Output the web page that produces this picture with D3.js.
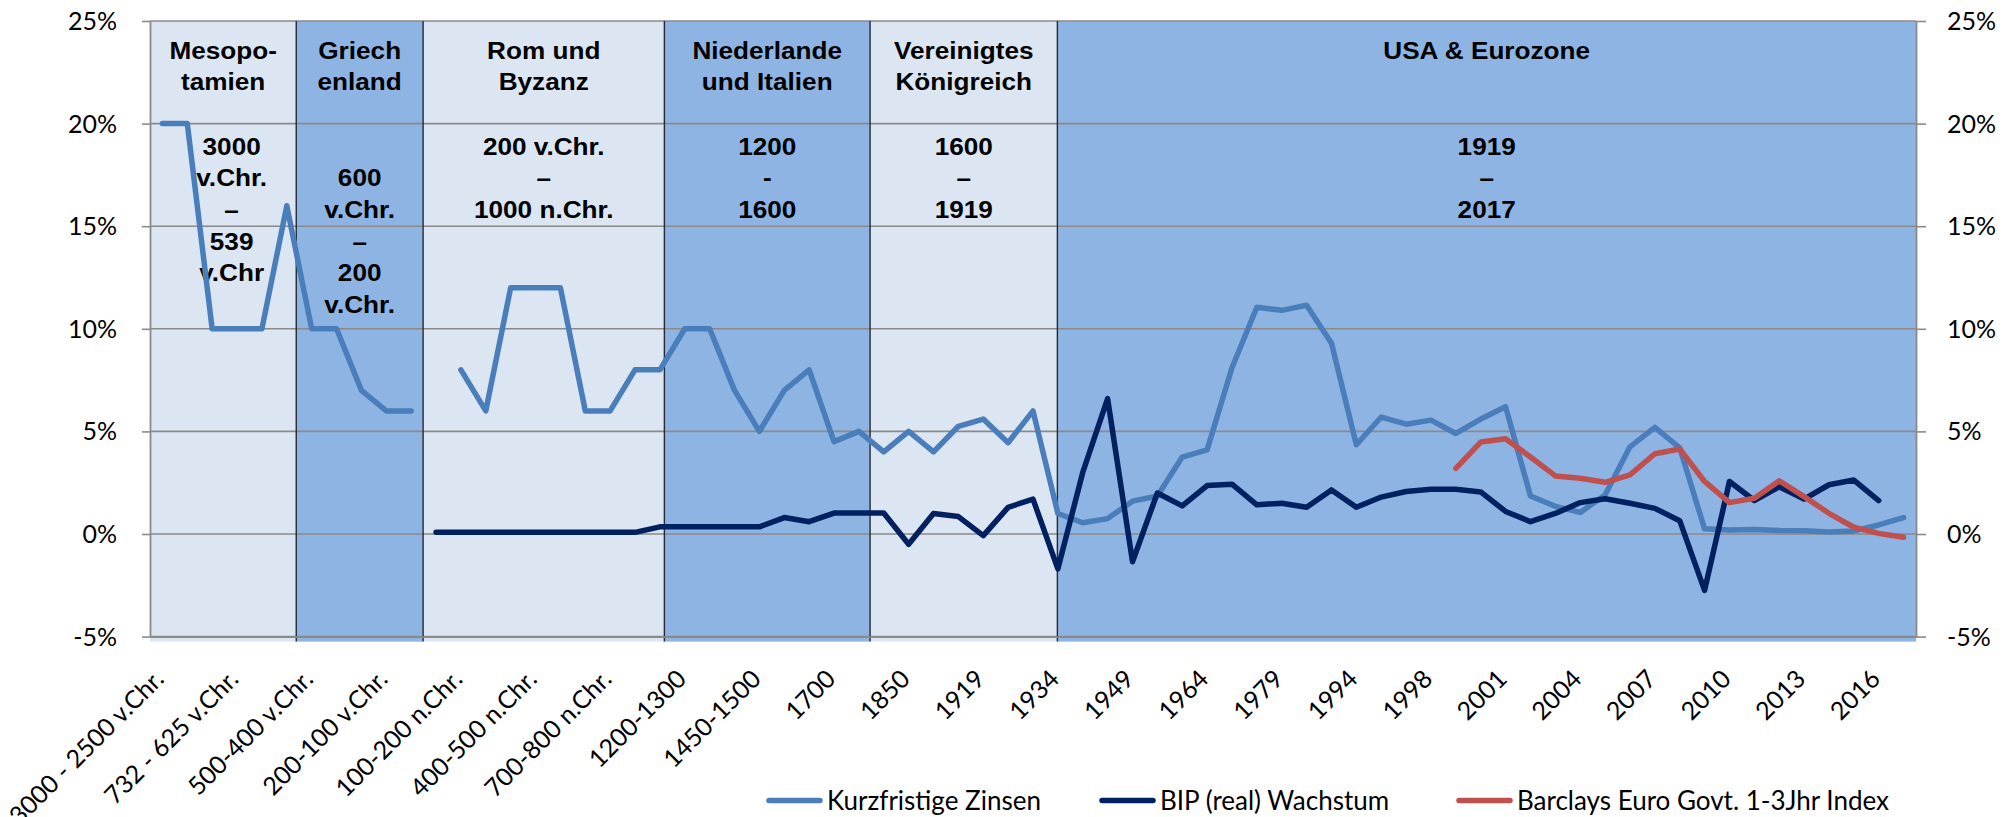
<!DOCTYPE html>
<html>
<head>
<meta charset="utf-8">
<script src="https://cdn.jsdelivr.net/npm/d3@7"></script>
<style>
  html, body { margin: 0; padding: 0; background: #ffffff; }
  svg { display: block; }
</style>
</head>
<body>
<script>
// ---------------- DATA ----------------
const categories = [
  "3000 - 2500 v.Chr.", "2500 - 2000 v.Chr.", "2000 - 1500 v.Chr.",
  "732 - 625 v.Chr.", "625 - 580 v.Chr.", "580 - 539 v.Chr.",
  "500-400 v.Chr.", "400-300 v.Chr.", "300-200 v.Chr.",
  "200-100 v.Chr.", "100-0 v.Chr.", "0-100 n.Chr.",
  "100-200 n.Chr.", "200-300 n.Chr.", "300-400 n.Chr.",
  "400-500 n.Chr.", "500-600 n.Chr.", "600-700 n.Chr.",
  "700-800 n.Chr.", "800-900 n.Chr.", "900-1000 n.Chr.",
  "1200-1300", "1300-1400", "1400-1450",
  "1450-1500", "1500-1600", "1600-1650",
  "1700", "1750", "1800",
  "1850", "1870", "1900",
  "1919", "1924", "1929",
  "1934", "1939", "1944",
  "1949", "1954", "1959",
  "1964", "1969", "1974",
  "1979", "1984", "1989",
  "1994", "1996", "1997",
  "1998", "1999", "2000",
  "2001", "2002", "2003",
  "2004", "2005", "2006",
  "2007", "2008", "2009",
  "2010", "2011", "2012",
  "2013", "2014", "2015",
  "2016", "2017"
];

// Kurzfristige Zinsen (%)
const zinsen = [
  20, 20, 10, 10, 10, 16, 10, 10, 7, 6, 6, null,
  8, 6, 12, 12, 12, 6, 6, 8, 8,
  10, 10, 7, 5, 7, 8,
  4.5, 5, 4, 5, 4, 5.25, 5.6, 4.45, 6.0,
  1.0, 0.55, 0.75, 1.6, 1.85, 3.75, 4.1, 8.1, 11.05, 10.9, 11.15, 9.3,
  4.35, 5.7, 5.35, 5.55, 4.9, 5.6, 6.2, 1.85, 1.35, 1.05, 1.9, 4.25,
  5.2, 4.2, 0.25, 0.2, 0.22, 0.17, 0.16, 0.1, 0.15, 0.44, 0.8
];

// BIP (real) Wachstum (%)
const bip = [
  null, null, null, null, null, null, null, null, null, null, null,
  0.08, 0.08, 0.08, 0.08, 0.08, 0.08, 0.08, 0.08, 0.08, 0.35,
  0.35, 0.35, 0.35, 0.35, 0.8, 0.6,
  1.02, 1.02, 1.02, -0.5, 1.0, 0.85, -0.08, 1.3, 1.7,
  -1.7, 3.0, 6.6, -1.35, 2.0, 1.37, 2.36, 2.43, 1.42, 1.5, 1.3, 2.15,
  1.3, 1.8, 2.07, 2.18, 2.18, 2.05, 1.1, 0.6, 1.0, 1.53, 1.72, 1.5,
  1.25, 0.65, -2.75, 2.56, 1.63, 2.3, 1.7, 2.4, 2.63, 1.63, null
];

// Barclays Euro Govt. 1-3Jhr Index (%)
const barclays = [
  null, null, null, null, null, null, null, null, null, null, null,
  null, null, null, null, null, null, null, null, null, null,
  null, null, null, null, null, null,
  null, null, null, null, null, null, null, null, null,
  null, null, null, null, null, null, null, null, null, null, null, null,
  null, null, null, null, 3.2, 4.48, 4.64, 3.75, 2.83, 2.72, 2.52, 2.88,
  3.91, 4.14, 2.56, 1.53, 1.74, 2.59, 1.82, 1.01, 0.33, 0.03, -0.16
];

const yTicks = [-5, 0, 5, 10, 15, 20, 25];

// Eras (background bands), boundaries in category units
const eraHeaders = [
  ["Mesopo-", "tamien"],
  ["Griech", "enland"],
  ["Rom und", "Byzanz"],
  ["Niederlande", "und Italien"],
  ["Vereinigtes", "Königreich"],
  ["USA & Eurozone"]
];
const eraDates = [
  ["3000", "v.Chr.", "–", "539", "v.Chr"],
  ["", "600", "v.Chr.", "–", "200", "v.Chr."],
  ["200 v.Chr.", "–", "1000 n.Chr."],
  ["1200", "-", "1600"],
  ["1600", "–", "1919"],
  ["1919", "–", "2017"]
];
const eraBounds = [0, 5.88, 10.98, 20.68, 28.95, 36.48, 71];
const eraShade = ["light", "dark", "light", "dark", "light", "dark"];

const seriesNames = ["Kurzfristige Zinsen", "BIP (real) Wachstum", "Barclays Euro Govt. 1-3Jhr Index"];

// ---------------- LAYOUT / STYLE ----------------
const W = 2015, H = 817;
const M = { left: 150, right: 1916, top: 21, bottom: 636.6 };
const colors = {
  light: "#DCE6F2", dark: "#8EB4E3", grid: "#8a8a8a", sep: "#222a33",
  zinsen: "#4A7EBB", bip: "#002060", barclays: "#C0504D"
};
const axisFont = "Lato, 'Open Sans', sans-serif";
const headFont = "'Liberation Sans', Arial, sans-serif";

const svg = d3.select("body").append("svg").attr("width", W).attr("height", H);

const x = d3.scaleBand().domain(categories).range([M.left, M.right]).paddingInner(0).paddingOuter(0);
const xu = d3.scaleLinear().domain([0, categories.length]).range([M.left, M.right]);
const y = d3.scaleLinear().domain([-5, 25]).range([M.bottom, M.top]);

// Bands
const eras = eraHeaders.map((h, i) => ({ h, d: eraDates[i], a: eraBounds[i], b: eraBounds[i + 1], s: eraShade[i] }));
svg.append("g").selectAll("rect").data(eras).join("rect")
  .attr("x", d => xu(d.a)).attr("width", d => xu(d.b) - xu(d.a))
  .attr("y", M.top).attr("height", M.bottom - M.top + 5)
  .attr("fill", d => colors[d.s]);

// Gridlines
svg.append("g").selectAll("line").data(yTicks).join("line")
  .attr("x1", M.left).attr("x2", M.right)
  .attr("y1", d => y(d)).attr("y2", d => y(d))
  .attr("stroke", colors.grid).attr("stroke-width", 1.6);

// Era separators
svg.append("g").selectAll("line").data(eraBounds.slice(1, -1)).join("line")
  .attr("x1", d => xu(d)).attr("x2", d => xu(d))
  .attr("y1", M.top).attr("y2", M.bottom + 5)
  .attr("stroke", colors.sep).attr("stroke-width", 1.4);

// Axes
const fmt = d => d + "%";
const gl = svg.append("g").attr("transform", `translate(${M.left},0)`)
  .call(d3.axisLeft(y).tickValues(yTicks).tickFormat(fmt).tickSize(8).tickSizeOuter(0).tickPadding(25));
const gr = svg.append("g").attr("transform", `translate(${M.right},0)`)
  .call(d3.axisRight(y).tickValues(yTicks).tickFormat(fmt).tickSize(10).tickSizeOuter(0).tickPadding(21));
[gl, gr].forEach(g => {
  g.select(".domain").attr("stroke", colors.grid).attr("stroke-width", 1.8);
  g.selectAll(".tick line").attr("stroke", colors.grid).attr("stroke-width", 1.6);
  g.selectAll(".tick text").attr("font-family", axisFont).attr("font-size", 25).attr("fill", "#000").attr("dy", "0.34em");
});

const gx = svg.append("g").attr("transform", `translate(0,${M.bottom})`)
  .call(d3.axisBottom(x).tickValues(categories.filter((d, i) => i % 3 === 0)).tickSize(0).tickSizeOuter(0));
gx.select(".domain").attr("stroke", colors.grid).attr("stroke-width", 1.6);
gx.selectAll(".tick text")
  .attr("font-family", axisFont).attr("font-size", 25).attr("fill", "#000")
  .attr("text-anchor", "end").attr("x", 0).attr("y", 0).attr("dy", 0)
  .attr("transform", "translate(3,44) rotate(-45)");

// Era texts
const dateNudge = [8.5, 0, 0, 0, 0, 0];
const lineStep = 31.7;
const eg = svg.append("g").attr("font-family", headFont).attr("font-weight", "bold")
  .attr("font-size", 24).attr("fill", "#000").attr("text-anchor", "middle");
eras.forEach((e, i) => {
  const cx = (xu(e.a) + xu(e.b)) / 2;
  e.h.forEach((t, k) => {
    eg.append("text").attr("transform", `translate(${cx},${58.7 + k * lineStep}) scale(1.09,1)`).text(t);
  });
  e.d.forEach((t, k) => {
    if (t) eg.append("text").attr("transform", `translate(${cx + dateNudge[i]},${154.5 + k * lineStep}) scale(1.09,1)`).text(t);
  });
});

// Lines
const cx = i => x(categories[i]) + x.bandwidth() / 2;
const line = d3.line().defined(d => d != null).x((d, i) => cx(i)).y(d => y(d));
const series = [
  { v: zinsen, c: colors.zinsen },
  { v: bip, c: colors.bip },
  { v: barclays, c: colors.barclays }
];
svg.append("g").selectAll("path").data(series).join("path")
  .attr("d", d => line(d.v))
  .attr("fill", "none").attr("stroke", d => d.c)
  .attr("stroke-width", 5.5).attr("stroke-linejoin", "round").attr("stroke-linecap", "round");

// Legend
const legendX = [767, 1100, 1457];
const lg = svg.append("g");
series.forEach((s, i) => {
  lg.append("line").attr("x1", legendX[i] + 2).attr("x2", legendX[i] + 53)
    .attr("y1", 800.5).attr("y2", 800.5)
    .attr("stroke", s.c).attr("stroke-width", 5.5).attr("stroke-linecap", "round");
  lg.append("text").attr("x", legendX[i] + 60).attr("y", 800.5).attr("dy", "0.35em")
    .attr("font-family", axisFont).attr("font-size", 26).attr("fill", "#000")
    .text(seriesNames[i]);
});
</script>
</body>
</html>
